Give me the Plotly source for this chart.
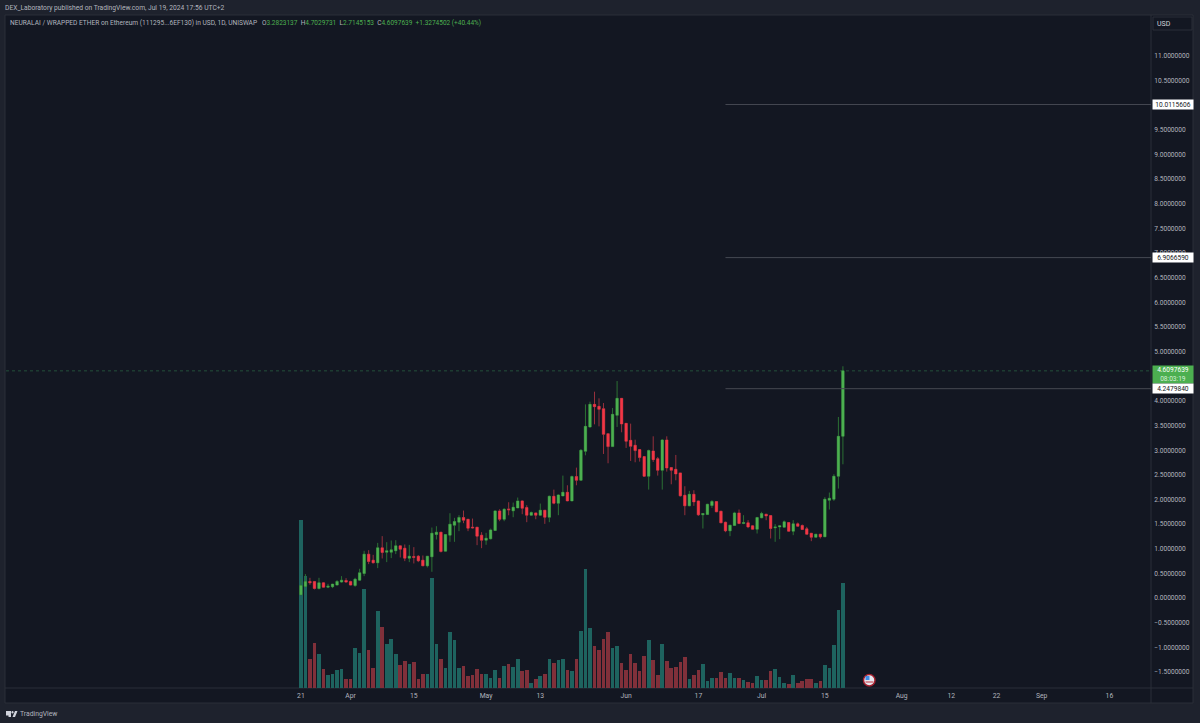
import pandas as pd
import plotly.graph_objects as go

W, H = 1200, 723
BG_OUTER = "#1E222D"
BG_PANE = "#131722"
TXT = "#B2B5BE"
GREEN = "#4CAF50"
RED = "#F23645"

start_date = "2024-03-21"

opens = [
    0.068, 0.237, 0.338, 0.338, 0.196, 0.311, 0.223, 0.230, 0.264, 0.325,
    0.358, 0.338, 0.257, 0.365, 0.500, 0.892, 0.770, 0.716, 1.020, 0.932,
    0.932, 0.960, 1.060, 1.013, 0.811, 0.845, 0.851, 0.770, 0.655, 0.838,
    1.290, 1.338, 0.953, 1.277, 1.479, 1.540, 1.635, 1.600, 1.440, 1.439,
    1.277, 1.175, 1.202, 1.371, 1.769, 1.600, 1.810, 1.770, 1.830, 1.972,
    1.837, 1.682, 1.729, 1.682, 1.783, 1.641, 2.066, 1.925, 2.073, 2.147,
    1.972, 2.465, 2.390, 2.978, 3.471, 3.930, 3.890, 3.842, 3.336, 3.073,
    3.707, 4.052, 3.545, 3.201, 3.100, 3.012, 2.870, 2.472, 2.985, 2.829,
    2.593, 3.208, 2.647, 2.613, 2.540, 2.087, 1.871, 2.107, 1.972, 1.689,
    1.695, 1.878, 1.959, 1.763, 1.540, 1.364, 1.473, 1.729, 1.513, 1.527,
    1.466, 1.398, 1.628, 1.702, 1.675, 1.425, 1.445, 1.439, 1.533, 1.358,
    1.506, 1.473, 1.405, 1.317, 1.236, 1.297, 1.243, 1.986, 2.006, 2.472,
    3.2823137,
]
closes = [
    0.257, 0.338, 0.311, 0.196, 0.311, 0.223, 0.243, 0.284, 0.338, 0.365,
    0.325, 0.264, 0.385, 0.514, 0.892, 0.743, 0.716, 1.020, 0.926, 0.960,
    0.980, 1.060, 0.993, 0.811, 0.851, 0.824, 0.757, 0.655, 0.851, 1.317,
    1.338, 0.946, 1.290, 1.500, 1.554, 1.635, 1.581, 1.419, 1.425, 1.257,
    1.175, 1.216, 1.384, 1.769, 1.600, 1.803, 1.790, 1.843, 1.972, 1.823,
    1.682, 1.735, 1.682, 1.783, 1.641, 2.066, 1.925, 2.093, 2.147, 1.972,
    2.465, 2.390, 2.998, 3.484, 3.930, 3.883, 3.829, 3.322, 3.073, 3.728,
    4.052, 3.532, 3.181, 3.080, 2.992, 2.850, 2.472, 2.992, 2.809, 2.593,
    3.208, 2.640, 2.593, 2.519, 2.074, 1.871, 2.107, 1.952, 1.689, 1.716,
    1.905, 1.959, 1.750, 1.527, 1.364, 1.479, 1.729, 1.513, 1.533, 1.445,
    1.398, 1.635, 1.716, 1.668, 1.412, 1.445, 1.466, 1.547, 1.358, 1.506,
    1.459, 1.391, 1.297, 1.236, 1.297, 1.243, 2.006, 2.026, 2.472, 3.282,
    4.6097639,
]
highs = [
    0.385, 0.487, 0.412, 0.340, 0.412, 0.325, 0.290, 0.290, 0.365, 0.446,
    0.405, 0.352, 0.412, 0.595, 0.960, 0.973, 0.878, 1.120, 1.257, 1.135,
    1.169, 1.175, 1.060, 1.088, 1.080, 1.034, 0.872, 0.865, 0.851, 1.432,
    1.459, 1.338, 1.290, 1.722, 1.628, 1.682, 1.776, 1.600, 1.614, 1.439,
    1.338, 1.324, 1.410, 1.783, 1.803, 1.823, 1.945, 1.938, 2.040, 1.985,
    1.884, 1.756, 1.735, 1.918, 1.783, 2.080, 2.201, 2.107, 2.485, 2.289,
    2.485, 2.647, 3.025, 3.930, 3.984, 4.187, 4.052, 3.957, 3.336, 3.856,
    4.403, 4.052, 3.545, 3.539, 3.214, 3.012, 2.870, 3.012, 3.282, 2.863,
    3.228, 3.282, 2.647, 2.904, 2.540, 2.269, 2.175, 2.188, 1.980, 1.723,
    1.912, 1.986, 1.966, 1.770, 1.550, 1.486, 1.750, 1.797, 1.682, 1.581,
    1.480, 1.648, 1.750, 1.710, 1.680, 1.500, 1.479, 1.574, 1.540, 1.581,
    1.533, 1.493, 1.445, 1.320, 1.300, 1.300, 2.047, 2.141, 2.513, 3.674,
    4.7029731,
]
lows = [
    0.060, 0.220, 0.270, 0.176, 0.176, 0.217, 0.203, 0.203, 0.257, 0.311,
    0.311, 0.257, 0.230, 0.352, 0.446, 0.689, 0.703, 0.608, 0.804, 0.730,
    0.811, 0.892, 0.824, 0.750, 0.730, 0.703, 0.730, 0.649, 0.622, 0.534,
    1.189, 0.926, 0.953, 1.142, 1.142, 1.358, 1.520, 1.358, 1.412, 1.074,
    1.013, 1.081, 1.190, 1.364, 1.560, 1.560, 1.680, 1.641, 1.823, 1.702,
    1.540, 1.675, 1.600, 1.668, 1.506, 1.540, 1.904, 1.682, 2.066, 1.965,
    1.965, 2.289, 2.377, 2.897, 3.457, 3.525, 3.484, 2.924, 2.735, 3.066,
    3.471, 3.363, 3.046, 2.782, 2.755, 2.769, 2.458, 2.201, 2.762, 2.485,
    2.201, 2.566, 2.309, 2.390, 2.060, 1.682, 1.864, 1.871, 1.668, 1.412,
    1.689, 1.830, 1.743, 1.520, 1.337, 1.256, 1.466, 1.500, 1.500, 1.419,
    1.390, 1.310, 1.620, 1.580, 1.209, 1.142, 1.196, 1.432, 1.350, 1.277,
    1.450, 1.385, 1.290, 1.155, 1.230, 1.209, 1.240, 1.797, 1.972, 2.222,
    2.7145153,
]
# volume has no readable scale on the chart, relative units only
volumes = [
    168, 112, 29, 45, 34, 19, 13, 14, 18, 19, 9, 9, 40, 35, 99, 38, 20, 77, 61, 44,
    49, 34, 23, 27, 24, 26, 9, 14, 14, 110, 44, 29, 20, 56, 48, 20, 22, 12, 13, 19,
    14, 14, 10, 18, 10, 22, 24, 21, 29, 17, 18, 5, 9, 12, 14, 29, 25, 28, 29, 18,
    17, 29, 57, 119, 60, 42, 38, 49, 56, 40, 42, 25, 18, 34, 25, 17, 32, 48, 28, 13,
    44, 27, 20, 21, 26, 31, 9, 13, 18, 24, 7, 10, 10, 16, 10, 15, 10, 10, 8, 6,
    5, 12, 8, 8, 17, 19, 11, 5, 4, 13, 5, 7, 9, 9, 5, 7, 23, 20, 43, 78, 105,
]

level_start = "2024-06-23"
level_values = [10.0115606, 6.9066590, 4.2479840]
level_labels = ["10.0115606", "6.9066590", "4.2479840"]
last_price = 4.6097639
last_label = "4.6097639<br><span style='color:#D7EFD8'>08:03:19</span>"

x_range = ["2024-01-15 17:00", "2024-09-25 05:00"]
price_range = [-1.823, 11.807]
price_ticks = [i * 0.5 for i in range(-3, 23)]
date_ticks = ["2024-03-21", "2024-04-01", "2024-04-15", "2024-05-01", "2024-05-13",
              "2024-06-01", "2024-06-17", "2024-07-01", "2024-07-15", "2024-08-01",
              "2024-08-12", "2024-08-22", "2024-09-01", "2024-09-16"]
date_labels = ["21", "Apr", "15", "May", "13", "Jun", "17", "Jul", "15", "Aug",
               "12", "22", "Sep", "16"]

header = "DEX_Laboratory published on TradingView.com, Jul 19, 2024 17:56 UTC+2"
symbol = "NEURALAI / WRAPPED ETHER on Ethereum (111295...6EF130) in USD, 1D, UNISWAP"
ohlc_text = ("O<span style='color:{g}'>3.2823137</span>  H<span style='color:{g}'>4.7029731</span>  "
             "L<span style='color:{g}'>2.7145153</span>  C<span style='color:{g}'>4.6097639</span>  "
             "<span style='color:{g}'>+1.3274502 (+40.44%)</span>").format(g=GREEN)

# plot area in page pixels, paper coords are relative to it
LEFT, RIGHT, TOP, BOTTOM = 6, 1151, 16, 688


def px(x):
    return (x - LEFT) / (RIGHT - LEFT)


def py(y):
    return (BOTTOM - y) / (BOTTOM - TOP)


dates = pd.date_range(start_date, periods=len(opens), freq="D")
vol_colors = ["#1E635F" if c >= o else "#80303A" for o, c in zip(opens, closes)]

fig = go.Figure()
fig.add_trace(go.Bar(
    x=dates, y=volumes, width=0.8 * 86400000,
    marker=dict(color=vol_colors, line_width=0),
    yaxis="y",
))
# wicks are dimmer than the bodies, so two layers
fig.add_trace(go.Candlestick(
    x=dates, open=opens, high=highs, low=lows, close=closes, yaxis="y2",
    whiskerwidth=0,
    increasing=dict(line=dict(color="#2B7034", width=1), fillcolor=GREEN),
    decreasing=dict(line=dict(color="#96303C", width=1), fillcolor=RED),
))
fig.add_trace(go.Candlestick(
    x=dates, open=opens, close=closes, yaxis="y2",
    high=[max(o, c) for o, c in zip(opens, closes)],
    low=[min(o, c) for o, c in zip(opens, closes)],
    whiskerwidth=0,
    increasing=dict(line=dict(color=GREEN, width=0), fillcolor=GREEN),
    decreasing=dict(line=dict(color=RED, width=0), fillcolor=RED),
))

shapes = [
    # chart pane, axis strips, separators
    dict(type="rect", xref="paper", yref="paper", layer="below", x0=px(5), x1=px(1193),
         y0=py(703), y1=py(15), fillcolor=BG_PANE, line=dict(color="#2A2E39", width=1)),
    dict(type="line", xref="paper", yref="paper", layer="below", x0=px(5), x1=px(1193),
         y0=py(688), y1=py(688), line=dict(color="#2A2E39", width=1)),
    dict(type="line", xref="paper", yref="paper", layer="below", x0=px(1151), x1=px(1151),
         y0=py(15), y1=py(703), line=dict(color="#2A2E39", width=1)),
    dict(type="rect", xref="paper", yref="paper", layer="below", x0=px(1153), x1=px(1192),
         y0=py(30), y1=py(17), fillcolor=BG_PANE, line=dict(color="#2A2E39", width=1)),
    # last price line
    dict(type="line", xref="x domain", yref="y2", x0=0, x1=1, y0=last_price, y1=last_price,
         layer="below", line=dict(color="#24503A", width=1, dash="dot")),
    # tradingview logo
    dict(type="rect", xref="paper", yref="paper", x0=px(6), x1=px(11), y0=py(715.5), y1=py(711),
         fillcolor="#D1D4DC", line_width=0),
    dict(type="rect", xref="paper", yref="paper", x0=px(8.5), x1=px(11), y0=py(717), y1=py(711),
         fillcolor="#D1D4DC", line_width=0),
    dict(type="circle", xref="paper", yref="paper", x0=px(11.5), x1=px(13.5), y0=py(713.5), y1=py(711),
         fillcolor="#D1D4DC", line_width=0),
    dict(type="path", xref="paper", yref="paper", line_width=0, fillcolor="#D1D4DC",
         path=f"M {px(12.5)} {py(717)} L {px(15)} {py(711)} L {px(17.5)} {py(711)} L {px(15)} {py(717)} Z"),
    # flag marker on the time axis
    dict(type="circle", xref="paper", yref="paper", x0=px(863.5), x1=px(875), y0=py(686), y1=py(674.5),
         fillcolor="#E6E8EF", line=dict(color="#A3202E", width=1.5)),
    dict(type="rect", xref="paper", yref="paper", x0=px(865.5), x1=px(869.5), y0=py(680), y1=py(676),
         fillcolor="#3F8FE8", line_width=0),
    dict(type="rect", xref="paper", yref="paper", x0=px(865.5), x1=px(873.5), y0=py(682.5), y1=py(681.5),
         fillcolor="#C8323F", line_width=0),
]
for value in level_values:
    shapes.append(dict(type="line", xref="x", yref="y2", x0=level_start, x1=x_range[1],
                       y0=value, y1=value, line=dict(color="#454852", width=1)))

annotations = [
    dict(text=header, xref="paper", yref="paper", x=px(5), y=py(8), xanchor="left", yanchor="middle",
         showarrow=False, borderpad=0, xshift=-1, font=dict(family="Roboto", size=6.7, color=TXT)),
    dict(text=symbol, xref="paper", yref="paper", x=px(10), y=py(23), xanchor="left", yanchor="middle",
         showarrow=False, borderpad=0, xshift=-1, font=dict(family="Roboto", size=6.6, color=TXT)),
    dict(text=ohlc_text, xref="paper", yref="paper", x=px(262), y=py(23), xanchor="left", yanchor="middle",
         showarrow=False, borderpad=0, xshift=-1, font=dict(family="Roboto", size=6.5, color=TXT)),
    dict(text="USD", xref="paper", yref="paper", x=px(1155), y=py(24), xanchor="left", yanchor="middle",
         showarrow=False, font=dict(family="Roboto", size=7, color="#D1D4DC")),
    dict(text="TradingView", xref="paper", yref="paper", x=px(18), y=py(713.5), xanchor="left", yanchor="middle",
         showarrow=False, font=dict(family="Roboto", size=6.8, color=TXT)),
    dict(text=last_label, xref="paper", yref="y2", x=px(1151.5), y=last_price, xanchor="left", yanchor="middle",
         yshift=-4, showarrow=False, align="center", width=40, height=17, bgcolor=GREEN, borderpad=0,
         font=dict(family="Roboto", size=6.6, color="#FFFFFF")),
]
for value, label in zip(level_values, level_labels):
    annotations.append(dict(text=label, xref="paper", yref="y2", x=px(1151.5), y=value,
                            xanchor="left", yanchor="middle", showarrow=False, align="center",
                            width=40, height=9, bgcolor="#FFFFFF", borderpad=0,
                            font=dict(family="Roboto", size=6.6, color="#131722")))

fig.update_layout(
    width=W, height=H, autosize=False,
    paper_bgcolor=BG_OUTER, plot_bgcolor="rgba(0,0,0,0)",
    margin=dict(l=LEFT, r=W - RIGHT, t=TOP, b=H - BOTTOM, pad=0),
    showlegend=False, boxgap=0.25, bargap=0,
    font=dict(family="Roboto", size=7, color=TXT),
    xaxis=dict(range=x_range, rangeslider=dict(visible=False), showgrid=False, zeroline=False,
               tickmode="array", tickvals=date_ticks, ticktext=date_labels, ticks="",
               showline=False, tickfont=dict(family="Roboto", size=6.8, color=TXT), ticklabelstandoff=2),
    yaxis=dict(range=[0, 672], visible=False, showgrid=False, zeroline=False),
    yaxis2=dict(range=price_range, overlaying="y", side="right", showgrid=False, zeroline=False,
                tickmode="array", tickvals=price_ticks, tickformat=".7f", ticks="outside", ticklen=1,
                tickcolor="rgba(0,0,0,0)", showline=False,
                tickfont=dict(family="Roboto", size=6.6, color=TXT)),
    shapes=shapes, annotations=annotations,
)

fig.write_html("out.html", config={"displayModeBar": False},
               post_script="document.body.style.margin='0';")
